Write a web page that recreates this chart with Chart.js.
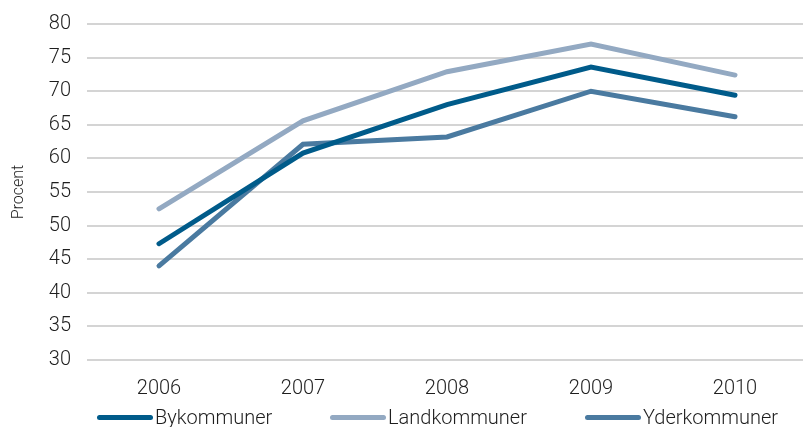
<!DOCTYPE html>
<html>
<head>
<meta charset="utf-8">
<script src="https://cdn.jsdelivr.net/npm/chart.js@4/dist/chart.umd.min.js"></script>
<style>
  html, body { margin: 0; padding: 0; background: #fff; }
  #wrap { position: relative; width: 803px; height: 427px; overflow: hidden; }
  #legend { position: absolute; top: 405px; left: 0; width: 803px; height: 24px;
            font-family: Roboto, sans-serif; font-weight: 300; font-size: 20px; color: #1e1e1e; }
  .lg-item { position: absolute; top: 0; display: flex; align-items: center; }
  .lg-line { width: 56px; height: 5px; border-radius: 3px; margin-right: 2px; }
</style>
</head>
<body>
<div id="wrap">
  <canvas id="chart" width="807" height="427"></canvas>
  <div id="legend"></div>
</div>
<script>
// ─── data ────────────────────────────────────────────────────────────────────
const years        = ['2006', '2007', '2008', '2009', '2010'];
const bykommuner   = [47.3, 60.8, 68.0, 73.6, 69.4];
const landkommuner = [52.5, 65.6, 72.9, 77.0, 72.4];
const yderkommuner = [44.0, 62.1, 63.2, 70.0, 66.2];
const seriesNames  = ['Bykommuner', 'Landkommuner', 'Yderkommuner'];
const seriesColors = ['#005b8a', '#93a9c2', '#4a7aa0'];
const legendLeft   = [97, 330, 585];

const FONT = { family: 'Roboto, sans-serif', size: 20, weight: 300 };

function lineSet(label, data, color) {
  return {
    label, data,
    borderColor: color, backgroundColor: color,
    borderWidth: 5, pointRadius: 0, tension: 0,
    borderCapStyle: 'round', borderJoinStyle: 'miter',
  };
}

new Chart(document.getElementById('chart'), {
  type: 'line',
  data: {
    labels: years,
    datasets: [
      lineSet(seriesNames[0], bykommuner,   seriesColors[0]),
      lineSet(seriesNames[1], landkommuner, seriesColors[1]),
      lineSet(seriesNames[2], yderkommuner, seriesColors[2]),
    ],
  },
  options: {
    responsive: false,
    animation: false,
    layout: { padding: { top: 24, right: 0, left: 0, bottom: 0 } },
    plugins: { legend: { display: false }, tooltip: { enabled: false } },
    scales: {
      x: {
        offset: true,
        grid: { display: false },
        border: { display: false },
        ticks: { color: '#1e1e1e', font: FONT, padding: 9 },
        afterFit: s => { s.height = 67; },
      },
      y: {
        min: 30, max: 80,
        ticks: { stepSize: 5, color: '#1e1e1e', font: FONT, padding: 16 },
        grid: { color: '#d4d4d4', lineWidth: 2, drawTicks: false },
        border: { display: false },
        title: { display: true, text: 'Procent', color: '#1e1e1e',
                 font: { family: 'Roboto, sans-serif', size: 16, weight: 300 },
                 padding: { top: 9, bottom: 0 } },
        afterFit: s => { s.width = 87; s.paddingTop = 0; s.paddingBottom = 0; },
      },
    },
  },
});

// ─── legend ──────────────────────────────────────────────────────────────────
const lg = document.getElementById('legend');
seriesNames.forEach((name, i) => {
  const item = document.createElement('div');
  item.className = 'lg-item';
  item.style.left = legendLeft[i] + 'px';
  item.innerHTML = `<span class="lg-line" style="background:${seriesColors[i]}"></span><span>${name}</span>`;
  lg.appendChild(item);
});
</script>
</body>
</html>
